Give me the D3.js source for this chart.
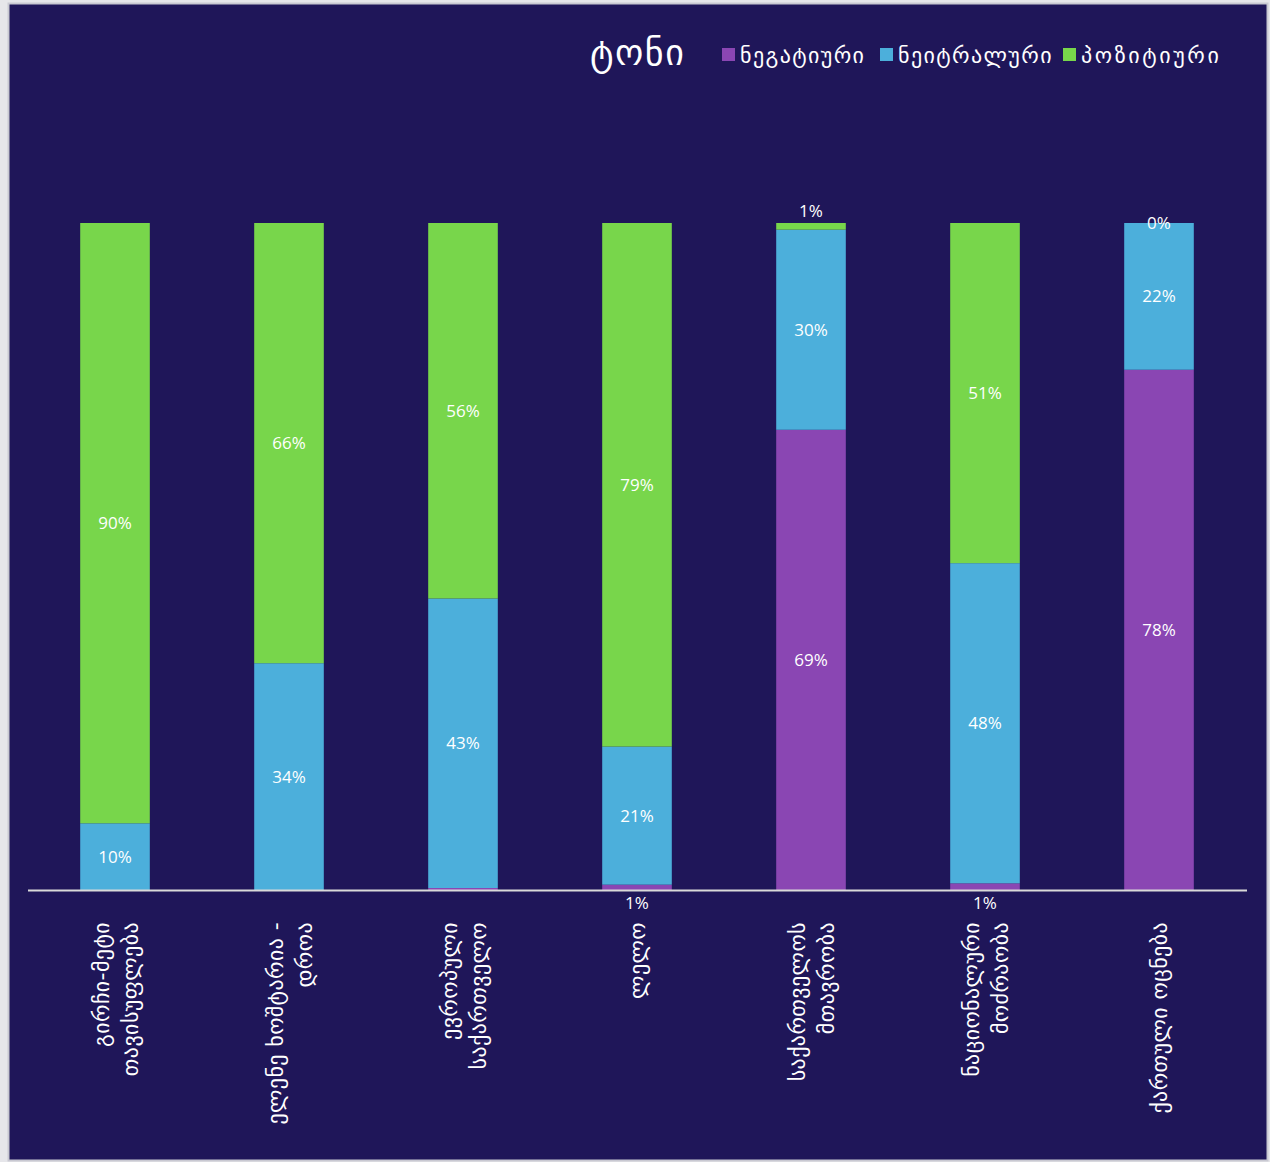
<!DOCTYPE html>
<html>
<head>
<meta charset="utf-8">
<script src="https://cdn.jsdelivr.net/npm/d3@7"></script>
<style>
  body { margin: 0; background: #ffffff; }
  svg { display: block; }
</style>
</head>
<body>
<svg width="1270" height="1162"></svg>
<script>
// categories (lines split on "\n")
const categories = [
  "გირჩი-მეტი\nთავისუფლება",
  "ელენე ხოშტარია -\nდროა",
  "ევროპული\nსაქართველო",
  "ლელო",
  "საქართველოს\nმთავრობა",
  "ნაციონალური\nმოძრაობა",
  "ქართული ოცნება"
];
const seriesNames = ["ნეგატიური", "ნეიტრალური", "პოზიტიური"];
const negative = [0, 0, 0.3, 0.8, 69, 1, 78];
const neutral  = [10, 34, 43.4, 20.7, 30, 48, 22];
const positive = [90, 66, 56.3, 78.5, 1, 51, 0];
const legendTitle = "ტონი";
const colors = ["#8a46b3", "#4cafdb", "#78d64b"];

const svg = d3.select("svg");

// page background + frame
svg.append("rect")
  .attr("x", 0).attr("y", 0).attr("width", 1270).attr("height", 1162)
  .attr("fill", "#e6e6ea");
svg.append("rect")
  .attr("x", 8.5).attr("y", 3.5).attr("width", 1259).attr("height", 1157)
  .attr("fill", "#1f1659")
  .attr("stroke", "#c9c9d2")
  .attr("stroke-width", 2);

const table = categories.map((c, i) => ({
  cat: c,
  [seriesNames[0]]: negative[i],
  [seriesNames[1]]: neutral[i],
  [seriesNames[2]]: positive[i]
}));

const stack = d3.stack().keys(seriesNames);
const layers = stack(table);

const x = d3.scaleBand()
  .domain(categories)
  .range([28, 1246])
  .paddingInner(0.6)
  .paddingOuter(0.3);

const y = d3.scaleLinear().domain([0, 100]).range([890, 223]);

// bars
const g = svg.append("g");
layers.forEach((layer, li) => {
  g.selectAll(null)
    .data(layer)
    .enter()
    .append("rect")
    .attr("x", (d) => x(d.data.cat))
    .attr("width", x.bandwidth())
    .attr("y", (d) => y(Math.min(d[1], 100)))
    .attr("height", (d) => Math.max(0, y(d[0]) - y(Math.min(d[1], 100))))
    .attr("fill", colors[li]);
});

// value labels
layers.forEach((layer, li) => {
  layer.forEach((d) => {
    const v = d[1] - d[0];
    if (li === 0 && v < 0.5) return; // no label for empty / tiny negative slice
    const cx = x(d.data.cat) + x.bandwidth() / 2;
    const top = y(Math.min(d[1], 100));
    const bot = y(d[0]);
    let cy = (top + bot) / 2;
    if (v > 0 && bot - top < 12) {
      if (li === 0) cy = bot + 13;
      else cy = top - 12;
    }
    svg.append("text")
      .attr("x", cx)
      .attr("y", cy)
      .attr("dy", "0.35em")
      .attr("text-anchor", "middle")
      .attr("fill", "#ffffff")
      .style("font-family", "'Open Sans', sans-serif")
      .style("font-size", "17px")
      .text(Math.round(v) + "%");
  });
});

// x axis line
svg.append("line")
  .attr("x1", 28).attr("x2", 1247)
  .attr("y1", 890.5).attr("y2", 890.5)
  .attr("stroke", "#d9d9d9")
  .attr("stroke-width", 2);

// category labels, rotated
categories.forEach((c) => {
  const lines = c.split("\n");
  const cx = x(c) + x.bandwidth() / 2;
  const t = svg.append("text")
    .attr("transform", `translate(${cx},922) rotate(-90)`)
    .attr("text-anchor", "end")
    .attr("fill", "#ffffff")
    .style("font-family", "'DejaVu Sans', sans-serif")
    .style("font-size", "22px")
    .style("letter-spacing", "0.4px");
  lines.forEach((ln, i) => {
    t.append("tspan")
      .attr("x", 0)
      .attr("y", (i - (lines.length - 1) / 2) * 29)
      .attr("dy", "0.38em")
      .text(ln);
  });
});

// legend
svg.append("text")
  .attr("x", 590).attr("y", 65)
  .attr("fill", "#ffffff")
  .style("font-family", "'DejaVu Sans', sans-serif")
  .style("font-size", "36px")
  .style("letter-spacing", "1.5px")
  .text(legendTitle);

const legendX = [722, 880, 1063];
seriesNames.forEach((s, i) => {
  svg.append("rect")
    .attr("x", legendX[i]).attr("y", 48)
    .attr("width", 13).attr("height", 13)
    .attr("fill", colors[i]);
  svg.append("text")
    .attr("x", legendX[i] + 18).attr("y", 63)
    .attr("fill", "#ffffff")
    .style("font-family", "'DejaVu Sans', sans-serif")
    .style("font-size", "22px")
    .style("letter-spacing", i === 2 ? "2.6px" : "1.4px")
    .text(s);
});
</script>
</body>
</html>
